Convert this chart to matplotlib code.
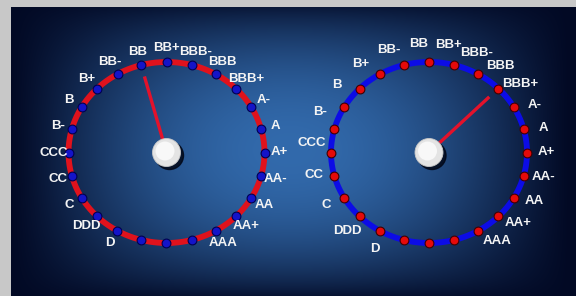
import numpy as np
import matplotlib
matplotlib.use("Agg")
import matplotlib.pyplot as plt
from matplotlib.patches import Circle

# rating scale, read clockwise from the lower left of each dial
RATINGS = ["D", "DDD", "C", "CC", "CCC", "B-", "B", "B+", "BB-", "BB", "BB+",
           "BBB-", "BBB", "BBB+", "A-", "A", "A+", "AA-", "AA", "AA+", "AAA"]
GAUGE_VALUES = ["BB", "BBB+"]   # left dial, right dial
N_DOTS = 24                     # one dot every 15 degrees round the ring

W, H = 576, 296


def rating_angle(r):
    # "D" sits at -120 deg, every step goes 15 deg clockwise
    return np.deg2rad(-120.0 - 15.0 * RATINGS.index(r))


def background():
    yy, xx = np.mgrid[0:H, 0:W] + 0.5
    fx = np.clip(1 - ((xx - 290) / 280.0) ** 2, 0, 1) ** 1.2
    fy = np.clip(1 - ((yy - 150) / 150.0) ** 2, 0, 1) ** 0.8
    f = (fx * fy)[..., None]
    dark = np.array([2, 9, 36]) / 255.0
    light = np.array([50, 106, 172]) / 255.0
    img = dark + (light - dark) * f
    panel = (xx >= 11) & (yy >= 7)
    img[~panel] = np.array([200, 200, 200]) / 255.0
    return img


gauges = [
    dict(cx=166.5, cy=152.5, ring="#e0121c", dot="#1414c8", dot_edge="#000050",
         label_r=1.15, shift=(0.0, 0.0, 0.0)),
    dict(cx=429.0, cy=152.5, ring="#0c0ce6", dot="#e40a0a", dot_edge="#400000",
         label_r=1.2, shift=(-2.4, 2.6, -7.3)),
]
RX, RY = 98.0, 90.5

fig = plt.figure(figsize=(W / 100, H / 100), dpi=100)
ax = fig.add_axes([0, 0, 1, 1])
ax.imshow(background(), extent=(0, W, H, 0), interpolation="bilinear", zorder=0)

for g, value in zip(gauges, GAUGE_VALUES):
    cx, cy = g["cx"], g["cy"]

    t = np.linspace(0, 2 * np.pi, 300)
    ax.plot(cx + RX * np.cos(t), cy - RY * np.sin(t), color=g["ring"], lw=4.2, zorder=2)

    a = np.deg2rad(np.arange(N_DOTS) * 360.0 / N_DOTS)
    ax.scatter(cx + RX * np.cos(a), cy - RY * np.sin(a), s=40, color=g["dot"],
               edgecolors=g["dot_edge"], linewidths=0.8, zorder=3)

    a0, b0, c0 = g["shift"]
    for r in RATINGS:
        th = rating_angle(r)
        th2 = th + np.deg2rad(a0 + b0 * np.cos(th) + c0 * np.sin(th))
        ax.text(cx + g["label_r"] * RX * np.cos(th2), cy - g["label_r"] * RY * np.sin(th2), r,
                color="#f4f4f4", fontsize=9.5, fontweight="bold", family="Liberation Sans",
                ha="center", va="center", zorder=5)

    th = rating_angle(value)
    ax.plot([cx, cx + 0.87 * RX * np.cos(th)], [cy, cy - 0.87 * RY * np.sin(th)],
            color="#e3122b", lw=2.4, solid_capstyle="butt", zorder=4)

    # hub with shadow
    ax.add_patch(Circle((cx + 3, cy + 3), 14, color="#020818", alpha=0.85, zorder=5))
    ax.add_patch(Circle((cx, cy), 14, facecolor="#e4e4e4", edgecolor="#c8c8c8", lw=0.6, zorder=6))
    ax.add_patch(Circle((cx - 1.5, cy - 1.5), 9.5, facecolor="#f8f8f8", edgecolor="none", zorder=6))

ax.set_xlim(0, W)
ax.set_ylim(H, 0)
ax.axis("off")
fig.savefig("out.png", dpi=100)
